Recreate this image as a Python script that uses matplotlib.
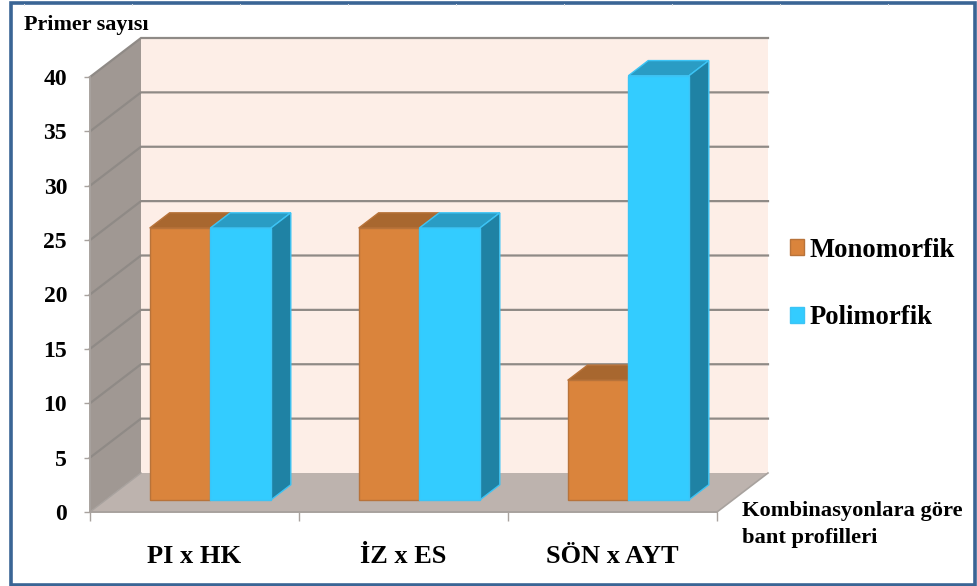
import numpy as np
import matplotlib
matplotlib.use('Agg')
import matplotlib.pyplot as plt
from matplotlib.patches import Polygon, Patch, Rectangle
from matplotlib.lines import Line2D

categories = ['PI x HK', 'İZ x ES', 'SÖN x AYT']
monomorfik = [25, 25, 11]
polimorfik = [25, 25, 39]
y_ticks = [0, 5, 10, 15, 20, 25, 30, 35, 40]

W, H = 977, 586
# oblique depth of the box, in axis units
DX = 51 / 209
DY = 39 / 10.875
BAR_W = 0.29
Z0, Z1 = 0.31, 0.70

plt.rcParams['font.family'] = ['Liberation Serif', 'DejaVu Serif']
plt.rcParams['font.weight'] = 'bold'

fig = plt.figure(figsize=(W / 100, H / 100), dpi=100, facecolor='white')
ax = fig.add_axes([90 / W, 1 - 512 / H, 627 / W, 435 / H])
ax.set_xlim(0, 3)
ax.set_ylim(0, 40)
ax.patch.set_visible(False)


def pt(x, y, z=0.0):
    # project a box coordinate onto the axes
    return (x + DX * z, y + DY * z)


def face(points, **kw):
    ax.add_patch(Polygon(points, closed=True, clip_on=False, **kw))


# walls and floor
face([pt(0, 0, 1), pt(3, 0, 1), pt(3, 40, 1), pt(0, 40, 1)], fc='#fdeee7', ec='none', zorder=1)
face([pt(0, 0, 0), pt(0, 0, 1), pt(0, 40, 1), pt(0, 40, 0)], fc='#a09893', ec='none', zorder=1)
face([pt(0, 0, 0), pt(3, 0, 0), pt(3, 0, 1), pt(0, 0, 1)], fc='#bdb3ae', ec='none', zorder=1)

# gridlines run along the back wall and down the side wall
for v in y_ticks[1:]:
    xs, ys = zip(pt(0, v, 0), pt(0, v, 1), pt(3, v, 1))
    ax.plot(xs, ys, color='#8f8a86', lw=1.6, zorder=2, clip_on=False, solid_joinstyle='miter')
xs, ys = zip(pt(3, 0, 0), pt(3, 0, 1))
ax.plot(xs, ys, color='#a8a29e', lw=1.2, zorder=2, clip_on=False)
xs, ys = zip(pt(0, 0, 0), pt(0, 0, 1))
ax.plot(xs, ys, color='#a8a29e', lw=1.0, zorder=2, clip_on=False)


def bar3d(x, h, front, top, side, edge, zo):
    face([pt(x, h, Z0), pt(x + BAR_W, h, Z0), pt(x + BAR_W, h, Z1), pt(x, h, Z1)],
         fc=top, ec=edge, lw=1, zorder=zo)
    face([pt(x + BAR_W, 0, Z0), pt(x + BAR_W, 0, Z1), pt(x + BAR_W, h, Z1), pt(x + BAR_W, h, Z0)],
         fc=side, ec=edge, lw=1, zorder=zo)
    face([pt(x, 0, Z0), pt(x + BAR_W, 0, Z0), pt(x + BAR_W, h, Z0), pt(x, h, Z0)],
         fc=front, ec=edge, lw=1, zorder=zo + 0.1)


for i in range(len(categories)):
    bar3d(i + 0.5 - BAR_W, monomorfik[i], '#da843c', '#a8672f', '#a8672f', '#b8733a', 3)
    bar3d(i + 0.5, polimorfik[i], '#33ccff', '#2a9cc4', '#1f82a4', '#3cc4f5', 4)

# axes
ax.set_yticks(y_ticks)
ax.set_yticklabels([str(v) for v in y_ticks], fontsize=17, fontweight='bold')
ax.set_xticks([0, 1, 2, 3])
ax.set_xticklabels([])
ax.set_xticks([0.5, 1.5, 2.5], labels=categories, minor=True, fontsize=19, fontweight='bold')
ax.tick_params(axis='x', which='minor', length=0, pad=24)
ax.tick_params(axis='x', which='major', length=6.5, width=1, color='#a8a29e')
ax.tick_params(axis='y', length=4.5, width=1, color='#a8a29e', pad=12)
for s in ['top', 'right']:
    ax.spines[s].set_visible(False)
for s in ['left', 'bottom']:
    ax.spines[s].set_color('#a8a29e')
    ax.spines[s].set_linewidth(1.4)
    ax.spines[s].set_zorder(2.5)

# axis captions sit outside the box, placed in figure space
fig.text(24 / W, 1 - 25 / H, 'Primer sayısı', fontsize=15.9, va='center', ha='left')
fig.text(742 / W, 1 - 511 / H, 'Kombinasyonlara göre', fontsize=16.2, va='center', ha='left')
fig.text(742 / W, 1 - 538 / H, 'bant profilleri', fontsize=16.2, va='center', ha='left')

handles = [Patch(fc='#da843c', ec='#b8733a', label='Monomorfik'),
           Patch(fc='#33ccff', ec='#3cc4f5', label='Polimorfik')]
fig.legend(handles=handles, frameon=False, loc='center left',
           bbox_to_anchor=(765.5 / W, 1 - 284 / H), prop={'size': 19.2, 'weight': 'bold'},
           handlelength=0.54, handleheight=0.54, handletextpad=0.2, labelspacing=1.6)

# outer frame with its small marks along the top edge
fig.add_artist(Rectangle((11 / W, 1.5 / H), (975 - 11) / W, (584 - 2) / H, transform=fig.transFigure,
                         fc='none', ec='#3a6595', lw=2.6))
for px in range(24, 900, 108):
    fig.add_artist(Line2D([px / W, px / W], [1 - 3.5 / H, 1 - 5 / H], color='#dcdfe2', lw=0.7))

fig.savefig('out.png', dpi=100)
